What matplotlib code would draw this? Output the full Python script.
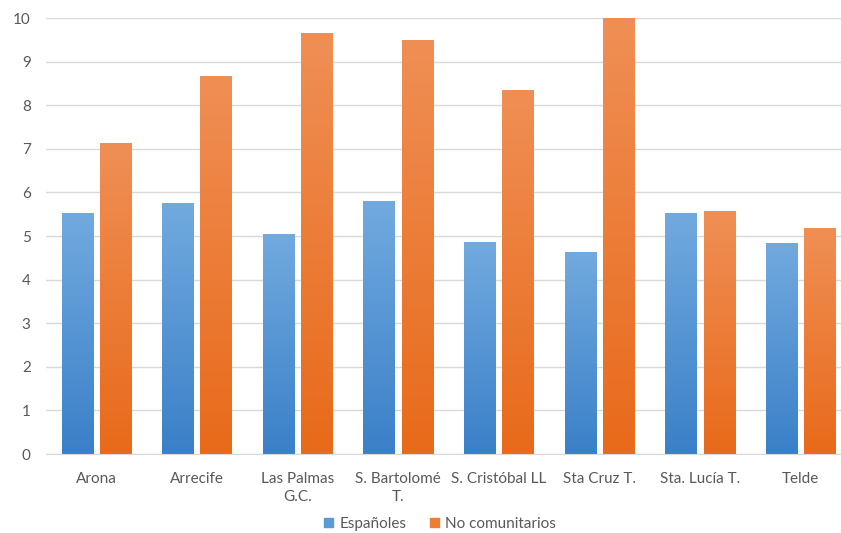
import matplotlib.pyplot as plt
import numpy as np
from matplotlib.colors import LinearSegmentedColormap
from matplotlib.patches import Patch

categorias = ["Arona", "Arrecife", "Las Palmas\nG.C.", "S. Bartolomé\nT.", "S. Cristóbal LL",
              "Sta Cruz T.", "Sta. Lucía T.", "Telde"]
espanoles = [5.53, 5.76, 5.05, 5.80, 4.86, 4.63, 5.53, 4.84]
no_comunitarios = [7.13, 8.67, 9.66, 9.50, 8.35, 10.0, 5.57, 5.18]

plt.rcParams['font.family'] = ['Lato', 'DejaVu Sans']

fig = plt.figure(figsize=(8.41, 5.33), dpi=100)
W, H = 841, 533
ax = fig.add_axes([46 / W, 1 - 454 / H, (851 - 46) / W, (454 - 18) / H])

x = np.arange(len(categorias))
w = 0.31
off = 0.19

blue_cmap = LinearSegmentedColormap.from_list("b", ["#3a80c8", "#72aadf"])
orange_cmap = LinearSegmentedColormap.from_list("o", ["#e86a1a", "#f08f55"])
grad = np.linspace(0, 1, 256).reshape(-1, 1)

def gradient_bars(xs, vals, cmap):
    bars = ax.bar(xs, vals, w, color="none", edgecolor="none", zorder=2)
    for b in bars:
        x0, y0 = b.get_x(), b.get_y()
        im = ax.imshow(grad, cmap=cmap, origin="lower", aspect="auto",
                       extent=[x0, x0 + b.get_width(), y0, y0 + b.get_height()], zorder=2)
        im.set_clip_path(b)
    return bars

gradient_bars(x - off, espanoles, blue_cmap)
gradient_bars(x + off, no_comunitarios, orange_cmap)

ax.set_xlim(-0.5, len(categorias) - 0.5)
ax.set_ylim(0, 10)
ax.set_yticks(range(0, 11))
ax.set_xticks(x)
ax.set_xticklabels(categorias, linespacing=1.4)
ax.grid(axis="y", color="#d9d9d9", linewidth=1, zorder=0)
ax.set_axisbelow(True)
for s in ["top", "right", "left"]:
    ax.spines[s].set_visible(False)
ax.spines["bottom"].set_color("#d9d9d9")
ax.tick_params(axis="both", length=0, colors="#595959", labelsize=11)
ax.tick_params(axis="y", pad=11)
ax.tick_params(axis="x", pad=13)

handles = [Patch(color="#5b9bd5", label="Españoles"), Patch(color="#ed7d31", label="No comunitarios")]
fig.legend(handles=handles, loc="center", bbox_to_anchor=(440 / W, 1 - 524 / H), ncol=2,
           frameon=False, fontsize=11, handlelength=0.6, handleheight=0.6,
           handletextpad=0.4, columnspacing=1.5, labelcolor="#595959")

fig.savefig("out.png", dpi=100)
